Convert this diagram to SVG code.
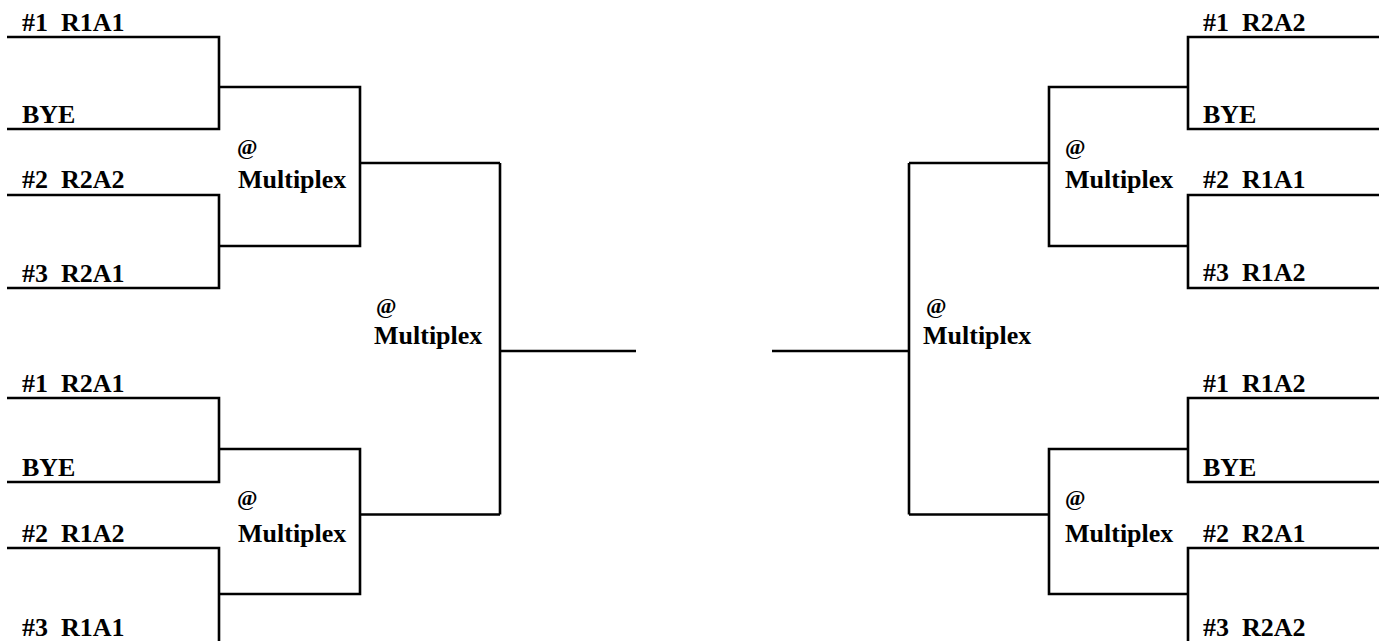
<svg xmlns="http://www.w3.org/2000/svg" width="1379" height="641" viewBox="0 0 1379 641">
<style>
.ln{fill:none;stroke:#000;stroke-width:2.6;stroke-linecap:butt;stroke-linejoin:miter}
.t{font-family:"Liberation Serif","Times New Roman",serif;font-weight:bold;font-size:26px;fill:#000;white-space:pre}
.at{font-family:"Liberation Serif","Times New Roman",serif;font-weight:bold;font-size:22px;fill:#000}
</style>
<rect width="1379" height="641" fill="#fff"/>
<g id="connectors" class="ln">
<path d="M7,37H219V129H7M219,87H360V246H219M7,195H219V288H7M360,163H500"/>
<path d="M7,398H219V482H7M219,449H360V594H219M7,548H219V641M360,514.5H500"/>
<path d="M500,163V514.5M500,351H636"/>
<path d="M772,351H909M909,163V514.5M909,163H1049M909,514.5H1049"/>
<path d="M1379,37H1188V129H1379M1188,87H1049V246H1188M1379,195H1188V288H1379"/>
<path d="M1379,398H1188V482H1379M1188,449H1049V594H1188M1379,548H1188V641"/>
</g>
<g id="team-l1"><text class="t" x="22" y="31">#1  R1A1</text></g>
<g id="team-l2"><text class="t" x="22" y="123">BYE</text></g>
<g id="team-l3"><text class="t" x="22" y="188">#2  R2A2</text></g>
<g id="team-l4"><text class="t" x="22" y="282">#3  R2A1</text></g>
<g id="team-l5"><text class="t" x="22" y="392">#1  R2A1</text></g>
<g id="team-l6"><text class="t" x="22" y="476">BYE</text></g>
<g id="team-l7"><text class="t" x="22" y="542">#2  R1A2</text></g>
<g id="team-l8"><text class="t" x="22" y="636">#3  R1A1</text></g>
<g id="team-r1"><text class="t" x="1203" y="31">#1  R2A2</text></g>
<g id="team-r2"><text class="t" x="1203" y="123">BYE</text></g>
<g id="team-r3"><text class="t" x="1203" y="188">#2  R1A1</text></g>
<g id="team-r4"><text class="t" x="1203" y="281">#3  R1A2</text></g>
<g id="team-r5"><text class="t" x="1203" y="392">#1  R1A2</text></g>
<g id="team-r6"><text class="t" x="1203" y="476">BYE</text></g>
<g id="team-r7"><text class="t" x="1203" y="542">#2  R2A1</text></g>
<g id="team-r8"><text class="t" x="1203" y="636">#3  R2A2</text></g>
<g id="venue-l-top"><text class="at" x="237" y="154">@</text><text class="t" x="238" y="188">Multiplex</text></g>
<g id="venue-l-bot"><text class="at" x="237" y="505">@</text><text class="t" x="238" y="542">Multiplex</text></g>
<g id="venue-l-final"><text class="at" x="376" y="313">@</text><text class="t" x="374" y="344">Multiplex</text></g>
<g id="venue-r-final"><text class="at" x="926" y="313">@</text><text class="t" x="923" y="344">Multiplex</text></g>
<g id="venue-r-top"><text class="at" x="1065" y="154">@</text><text class="t" x="1065" y="188">Multiplex</text></g>
<g id="venue-r-bot"><text class="at" x="1065" y="505">@</text><text class="t" x="1065" y="542">Multiplex</text></g>
</svg>
